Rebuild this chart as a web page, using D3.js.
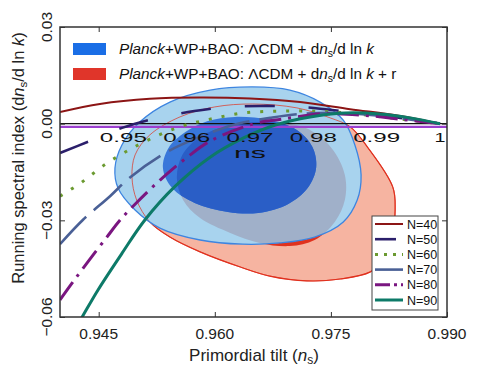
<!DOCTYPE html>
<html>
<head>
<meta charset="utf-8">
<script src="https://cdn.jsdelivr.net/npm/d3@7"></script>
<style>
  body { margin: 0; background: #fff; }
  svg { display: block; font-family: "Liberation Sans", Arial, sans-serif; }
</style>
</head>
<body>
<div id="svg-container"></div>
<script>
// ---------------- data ----------------
const nsTicks = [0.945, 0.960, 0.975, 0.990];
const runTicks = [0.03, 0.0, -0.03, -0.06];
const insetTicks = [0.95, 0.96, 0.97, 0.98, 0.99, 1];
const insetTickLabels = ["0.95", "0.96", "0.97", "0.98", "0.99", "1"];

// contours [n_s, dn_s/dlnk]
const blue95 = [[0.9649,0.0114],[0.9697,0.0104],[0.9736,0.0067],[0.9766,0.0011],[0.9781,-0.0066],[0.9789,-0.0159],[0.9784,-0.0237],[0.9766,-0.0305],[0.9729,-0.0352],[0.9684,-0.0370],[0.9636,-0.0374],[0.9581,-0.0361],[0.9529,-0.0324],[0.9497,-0.0268],[0.9475,-0.0200],[0.9471,-0.0138],[0.9480,-0.0066],[0.9503,0.0005],[0.9542,0.0067],[0.9594,0.0104]];
const blue68 = [[0.9626,0.0021],[0.9671,0.0011],[0.9706,-0.0020],[0.9726,-0.0072],[0.9731,-0.0135],[0.9720,-0.0200],[0.9695,-0.0249],[0.9656,-0.0277],[0.9617,-0.0274],[0.9574,-0.0246],[0.9545,-0.0200],[0.9533,-0.0138],[0.9540,-0.0076],[0.9562,-0.0026],[0.9591,0.0008]];
const red95 = [[0.9775,-0.0010],[0.9797,-0.0072],[0.9830,-0.0197],[0.9833,-0.0268],[0.9830,-0.0346],[0.9822,-0.0414],[0.9801,-0.0460],[0.9762,-0.0482],[0.9719,-0.0488],[0.9671,-0.0473],[0.9633,-0.0445],[0.9581,-0.0398],[0.9542,-0.0352],[0.9516,-0.0305],[0.9499,-0.0237],[0.9493,-0.0166],[0.9497,-0.0097],[0.9516,-0.0035],[0.9555,0.0021],[0.9600,0.0052],[0.9649,0.0061],[0.9706,0.0049],[0.9749,0.0018]];
const red68 = [[0.9665,0.0005],[0.9717,-0.0013],[0.9751,-0.0076],[0.9768,-0.0159],[0.9768,-0.0237],[0.9755,-0.0305],[0.9729,-0.0361],[0.9697,-0.0380],[0.9658,-0.0370],[0.9620,-0.0339],[0.9581,-0.0293],[0.9559,-0.0237],[0.9551,-0.0169],[0.9558,-0.0097],[0.9581,-0.0041],[0.9620,-0.0004]];

// model curves, inset n_s axis
const curveN40 = [[0.9400,0.0036],[0.9463,0.0061],[0.9542,0.0077],[0.9621,0.0081],[0.9700,0.0078],[0.9779,0.0067],[0.9858,0.0045],[0.9937,0.0024],[1.0,0]];
const curveN50 = [[0.9400,-0.0091],[0.9447,-0.0054],[0.9498,-0.0013],[0.9545,0.0014],[0.9602,0.0036],[0.9656,0.0050],[0.9716,0.0055],[0.9779,0.0052],[0.9858,0.0036],[0.9937,0.0018],[1.0,0]];
const curveN60 = [[0.9400,-0.0225],[0.9435,-0.0181],[0.9468,-0.0131],[0.9503,-0.0088],[0.9542,-0.0048],[0.9589,-0.0010],[0.9637,0.0014],[0.9689,0.0033],[0.9743,0.0039],[0.9798,0.0039],[0.9853,0.0033],[0.9921,0.0018],[1.0,0]];
const curveN70 = [[0.9400,-0.0374],[0.9436,-0.0299],[0.9479,-0.0225],[0.9511,-0.0166],[0.9566,-0.0091],[0.9616,-0.0045],[0.9679,-0.0001],[0.9732,0.0018],[0.9779,0.0030],[0.9842,0.0033],[0.9921,0.0021],[1.0,0]];
const curveN80 = [[0.9400,-0.0547],[0.9419,-0.0495],[0.9444,-0.0429],[0.9474,-0.0352],[0.9495,-0.0299],[0.9522,-0.0243],[0.9558,-0.0175],[0.9601,-0.0104],[0.9637,-0.0054],[0.9705,-0.0001],[0.9751,0.0014],[0.9811,0.0030],[0.9874,0.0027],[0.9937,0.0014],[1.0,0]];
const curveN90 = [[0.9419,-0.0653],[0.9435,-0.0600],[0.9460,-0.0516],[0.9498,-0.0402],[0.9534,-0.0299],[0.9582,-0.0194],[0.9637,-0.0104],[0.9689,-0.0045],[0.9740,-0.0004],[0.9795,0.0021],[0.9850,0.0033],[0.9905,0.0030],[0.9953,0.0018],[1.0,0]];

const seriesNames = ["N=40", "N=50", "N=60", "N=70", "N=80", "N=90"];
const seriesData = [curveN40, curveN50, curveN60, curveN70, curveN80, curveN90];

// ---------------- init ----------------
const width = 479, height = 377;
const margin = { top: 27, right: 32, bottom: 60, left: 60 };

const svg = d3.select("#svg-container").append("svg")
  .attr("width", width).attr("height", height);

const xScale = d3.scaleLinear().domain([0.94, 0.99]).range([margin.left, width - margin.right]);
const yScale = d3.scaleLinear().domain([-0.06, 0.03]).range([height - margin.bottom, margin.top]);
const xInset = d3.scaleLinear().domain([0.94, 1.0]).range([margin.left, 440]);

const contour = d3.line()
  .x((d) => xScale(d[0]))
  .y((d) => yScale(d[1]))
  .curve(d3.curveCatmullRomClosed.alpha(0.5));

const modelLine = d3.line()
  .x((d) => xInset(d[0]))
  .y((d) => yScale(d[1]))
  .curve(d3.curveCatmullRom.alpha(0.5));

const defs = svg.append("defs");
defs.append("clipPath").attr("id", "plot-clip")
  .append("rect")
  .attr("x", margin.left).attr("y", margin.top)
  .attr("width", width - margin.right - margin.left)
  .attr("height", height - margin.bottom - margin.top);
defs.append("clipPath").attr("id", "b95-clip").append("path").attr("d", contour(blue95));
defs.append("clipPath").attr("id", "b68-clip").append("path").attr("d", contour(blue68));

const plot = svg.append("g").attr("clip-path", "url(#plot-clip)");

// contours
plot.append("path").attr("d", contour(red95)).attr("fill", "#f6b4a1")
  .attr("stroke", "#e0301e").attr("stroke-width", 1.2);
plot.append("path").attr("d", contour(red68)).attr("fill", "#e0321e");
plot.append("path").attr("d", contour(blue95)).attr("fill", "#a8d3ee");
plot.append("path").attr("d", contour(red68)).attr("fill", "#a0b0c9")
  .attr("clip-path", "url(#b95-clip)");
plot.append("path").attr("d", contour(red95)).attr("fill", "none")
  .attr("stroke", "#e0301e").attr("stroke-width", 1).attr("stroke-opacity", 0.7);
plot.append("path").attr("d", contour(blue95)).attr("fill", "none")
  .attr("stroke", "#3d85e0").attr("stroke-width", 1.3);
plot.append("path").attr("d", contour(blue68)).attr("fill", "#3877da");
plot.append("path").attr("d", contour(red68)).attr("fill", "#2a5ec6")
  .attr("clip-path", "url(#b68-clip)");

// inset axis + zero lines
plot.append("line")
  .attr("x1", margin.left).attr("x2", width - margin.right)
  .attr("y1", yScale(-0.001)).attr("y2", yScale(-0.001))
  .attr("stroke", "#9b3fcf").attr("stroke-width", 2.2);
plot.append("line")
  .attr("x1", margin.left).attr("x2", width - margin.right)
  .attr("y1", yScale(0)).attr("y2", yScale(0))
  .attr("stroke", "#111").attr("stroke-width", 1.3);

const styles = [
  { color: "#8c1515", width: 2, dash: null },
  { color: "#2b1f6b", width: 2.6, dash: "30,34" },
  { color: "#6b9a30", width: 3, dash: "3,10" },
  { color: "#4a6096", width: 2.6, dash: "38,10" },
  { color: "#7a1680", width: 3, dash: "22,7,3,7" },
  { color: "#0d7a68", width: 3, dash: null },
];

seriesData.forEach((data, i) => {
  plot.append("path")
    .datum(data)
    .attr("fill", "none")
    .attr("stroke", styles[i].color)
    .attr("stroke-width", styles[i].width)
    .attr("stroke-dasharray", styles[i].dash)
    .attr("d", modelLine);
});

// inset tick labels
svg.append("g").selectAll("text")
  .data(insetTicks)
  .join("text")
  .attr("x", (d) => xInset(d))
  .attr("y", 142)
  .attr("text-anchor", "middle")
  .attr("font-size", 13)
  .attr("textLength", (d, i) => (insetTickLabels[i].length > 1 ? 47 : 11))
  .attr("lengthAdjust", "spacingAndGlyphs")
  .attr("fill", "#111")
  .text((d, i) => insetTickLabels[i]);
svg.append("text")
  .attr("x", xInset(0.97)).attr("y", 158)
  .attr("text-anchor", "middle")
  .attr("font-size", 15)
  .attr("textLength", 32).attr("lengthAdjust", "spacingAndGlyphs")
  .attr("fill", "#111")
  .text("ns");

// axes (ticks inward on all sides)
const axisColor = "#333";
const xAxisB = d3.axisBottom(xScale).tickValues(nsTicks).tickSize(-5).tickFormat("").tickSizeOuter(0);
const xAxisT = d3.axisTop(xScale).tickValues(nsTicks).tickSize(-5).tickFormat("").tickSizeOuter(0);
const yAxisL = d3.axisLeft(yScale).tickValues(runTicks).tickSize(-5).tickFormat("").tickSizeOuter(0);
const yAxisR = d3.axisRight(yScale).tickValues(runTicks).tickSize(-5).tickFormat("").tickSizeOuter(0);

svg.append("g").attr("transform", `translate(0,${height - margin.bottom})`).call(xAxisB);
svg.append("g").attr("transform", `translate(0,${margin.top})`).call(xAxisT);
svg.append("g").attr("transform", `translate(${margin.left},0)`).call(yAxisL);
svg.append("g").attr("transform", `translate(${width - margin.right},0)`).call(yAxisR);
svg.selectAll(".tick line").attr("stroke", axisColor).attr("stroke-width", 1);
svg.selectAll(".domain").remove();

svg.append("rect")
  .attr("x", margin.left).attr("y", margin.top)
  .attr("width", width - margin.right - margin.left)
  .attr("height", height - margin.bottom - margin.top)
  .attr("fill", "none").attr("stroke", axisColor).attr("stroke-width", 1.5);

// tick labels
svg.append("g").selectAll("text")
  .data(nsTicks)
  .join("text")
  .attr("x", (d) => xScale(d))
  .attr("y", 339)
  .attr("text-anchor", "middle")
  .attr("font-size", 15.5)
  .attr("fill", "#222")
  .text((d) => d3.format(".3f")(d));

svg.append("g").selectAll("text")
  .data(runTicks)
  .join("text")
  .attr("transform", (d) => `translate(52,${yScale(d)}) rotate(-90)`)
  .attr("text-anchor", "middle")
  .attr("font-size", 15.5)
  .attr("fill", "#222")
  .text((d) => d3.format(".2f")(d).replace("-", "\u2212"));

// axis titles
const xt = svg.append("text")
  .attr("x", 254).attr("y", 361)
  .attr("text-anchor", "middle")
  .attr("font-size", 17)
  .attr("fill", "#222");
xt.append("tspan").text("Primordial tilt (");
xt.append("tspan").attr("font-style", "italic").text("n");
xt.append("tspan").attr("font-size", 12).attr("dy", 3).text("s");
xt.append("tspan").attr("dy", -3).text(")");

const yt = svg.append("text")
  .attr("transform", "translate(24,158) rotate(-90)")
  .attr("text-anchor", "middle")
  .attr("font-size", 16.5)
  .attr("fill", "#222");
yt.append("tspan").text("Running spectral index (d");
yt.append("tspan").attr("font-style", "italic").text("n");
yt.append("tspan").attr("font-size", 11.5).attr("dy", 3).text("s");
yt.append("tspan").attr("dy", -3).text("/d ln ");
yt.append("tspan").attr("font-style", "italic").text("k");
yt.append("tspan").text(")");

// top-left legend
const topLegend = [
  { color: "#1a6ee6", extra: "" },
  { color: "#e0352a", extra: " + r" },
];
topLegend.forEach((d, i) => {
  const yy = 43 + i * 25;
  svg.append("rect").attr("x", 73).attr("y", yy).attr("width", 33).attr("height", 12)
    .attr("fill", d.color);
  const t = svg.append("text").attr("x", 119).attr("y", yy + 11)
    .attr("font-size", 15.3).attr("fill", "#111");
  t.append("tspan").attr("font-style", "italic").text("Planck");
  t.append("tspan").text("+WP+BAO: \u039BCDM + d");
  t.append("tspan").attr("font-style", "italic").text("n");
  t.append("tspan").attr("font-size", 10.5).attr("dy", 3).text("s");
  t.append("tspan").attr("dy", -3).text("/d ln ");
  t.append("tspan").attr("font-style", "italic").text("k");
  if (d.extra) t.append("tspan").text(d.extra);
});

// bottom-right legend
const lg = svg.append("g");
lg.append("rect").attr("x", 372).attr("y", 216).attr("width", 66).attr("height", 94)
  .attr("fill", "#fff").attr("stroke", "#444").attr("stroke-width", 1);
const legendLen = [28, 21, 28, 28, 28, 28];
seriesNames.forEach((name, i) => {
  const yy = 224 + i * 15.2;
  lg.append("line")
    .attr("x1", 375).attr("x2", 375 + legendLen[i])
    .attr("y1", yy).attr("y2", yy)
    .attr("stroke", styles[i].color)
    .attr("stroke-width", styles[i].width)
    .attr("stroke-dasharray", i === 4 ? "15,4,3,4" : i === 2 ? "3,6" : null);
  lg.append("text").attr("x", 407).attr("y", yy + 4.5)
    .attr("font-size", 12.5).attr("fill", "#111").text(name);
});
</script>
</body>
</html>
